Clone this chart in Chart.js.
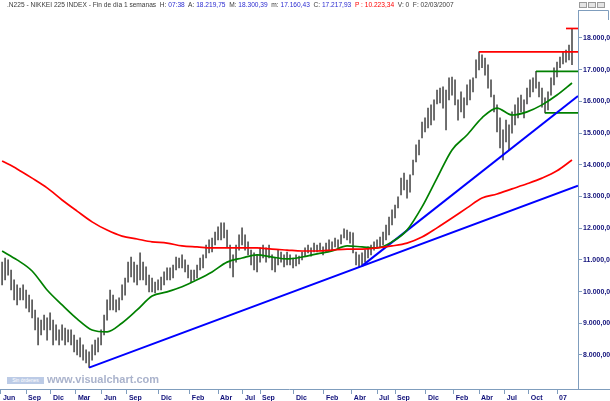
<!DOCTYPE html>
<html>
<head>
<meta charset="utf-8">
<script src="https://cdn.jsdelivr.net/npm/chart.js@4.4.1/dist/chart.umd.min.js"></script>
<style>
  html, body { margin: 0; padding: 0; background: #fff; overflow: hidden; }
  #wrap { position: relative; width: 610px; height: 401px; }
  #head { position: absolute; left: 7px; top: 1px; font: 6.6px "Liberation Sans", Arial, sans-serif; color: #3a3a3a; white-space: nowrap; }
  #head .v { color: #2b2bd0; }
  #head .p { color: #ff0000; }
  #wm { position: absolute; left: 47px; top: 373px; font: bold 11px "Liberation Sans", Arial, sans-serif; color: #aab3cc; }
  #so { position: absolute; left: 7px; top: 377px; width: 37px; height: 7px; background: #bccbe6; color: #fff; font: 5px "Liberation Sans", Arial, sans-serif; line-height: 7px; text-align: center; }
  .btn { position: absolute; top: 2px; width: 8px; height: 6px; border: 1px solid #9a9a9a; background: #e4e4e4; box-sizing: border-box; }
</style>
</head>
<body>
<div id="wrap">
  <canvas id="c" width="610" height="401"></canvas>
  <div id="head">.N225 - NIKKEI 225 INDEX - Fin de día 1 semanas&nbsp; H: <span class="v">07:38</span>&nbsp; A: <span class="v">18.219,75</span>&nbsp; M: <span class="v">18.300,39</span>&nbsp; m: <span class="v">17.160,43</span>&nbsp; C: <span class="v">17.217,93</span>&nbsp; <span class="p">P : 10.223,34</span>&nbsp; V: 0&nbsp; F: 02/03/2007</div>
  <div id="so">Sin órdenes</div>
  <div id="wm">www.visualchart.com</div>
  <div class="btn" style="left:579px"></div>
  <div class="btn" style="left:588px"></div>
  <div class="btn" style="left:597px"></div>
</div>
<script>
// weekly bars, oldest first
const highs = [
  10930, 11060, 11000, 10680, 10370, 10210, 10110, 10210, 10050, 9890,
  9740, 9420, 9170, 9100, 9260, 9170, 9330, 9100, 8950, 8790,
  8950, 8850, 8790, 8790, 8630, 8470, 8540, 8320, 8160, 8100,
  8320, 8470, 8540, 8790, 9260, 9740, 10050, 9890, 9740, 9800,
  10210, 10430, 10930, 11090, 10930, 10840, 11220, 10930, 10780, 10520,
  10430, 10300, 10370, 10460, 10620, 10750, 10750, 10840, 11090, 11060,
  11160, 11000, 10840, 10680, 10680, 10840, 11060, 11160, 11470, 11630,
  11690, 11880, 12040, 12170, 12170, 11940, 11470, 11160, 11470, 11790,
  12010, 11790, 11570, 11310, 11220, 11160, 11380, 11470, 11380, 11470,
  11160, 11060, 11310, 11250, 11160, 11250, 11160, 11060, 11160, 11120,
  11250, 11380, 11470, 11380, 11530, 11470, 11530, 11410, 11530, 11630,
  11570, 11690, 11630, 11790, 11980, 11940, 11880, 11850, 11250, 11160,
  11220, 11310, 11410, 11470, 11570, 11630, 11720, 11880, 12100, 12350,
  12580, 12730, 12990, 13580, 13740, 13520, 13680, 14150, 14630, 14780,
  15350, 15480, 15790, 15890, 16050, 16360, 16420, 16460, 16360, 16740,
  16770, 16680, 16050, 16300, 16110, 16520, 16680, 16740, 17310, 17560,
  17470, 17370, 17150, 16680, 16200, 15890, 15480, 15100, 15410, 15260,
  15670, 15890, 16110, 16200, 16050, 16420, 16680, 16740, 16950, 16610,
  16420, 16110, 16300, 16740, 17060, 17240, 17400, 17560, 17620, 17780,
  18300
];
const lows = [
  10210, 10370, 10520, 10050, 9740, 9580, 9740, 9740, 9480, 9360,
  9170, 8790, 8320, 8630, 8790, 8470, 8790, 8320, 8470, 8320,
  8470, 8320, 8410, 8320, 8100, 8000, 7940, 7840, 7750, 7610,
  7840, 8000, 8100, 8320, 8630, 9100, 9420, 9420, 9360, 9420,
  9740, 9890, 10300, 10460, 10300, 10210, 10370, 10370, 10210, 9990,
  9990, 9960, 10050, 10050, 10210, 10370, 10370, 10430, 10680, 10750,
  10750, 10620, 10430, 10300, 10370, 10430, 10680, 10750, 11060, 11220,
  11250, 11470, 11630, 11630, 11690, 11410, 10750, 10460, 10930, 11310,
  11470, 11310, 11160, 10840, 10680, 10620, 10930, 11060, 10930, 11060,
  10680, 10620, 10840, 10930, 10780, 10840, 10840, 10750, 10810, 10870,
  11000, 11120, 11220, 11120, 11250, 11250, 11310, 11160, 11250, 11310,
  11310, 11410, 11380, 11500, 11690, 11630, 11530, 11220, 10840, 10780,
  10810, 10930, 11060, 11160, 11310, 11380, 11410, 11470, 11630, 11790,
  12100, 12320, 12640, 13050, 13210, 12950, 13140, 13680, 14090, 14310,
  14850, 15040, 15160, 15260, 15410, 15920, 15950, 15790, 15100, 16050,
  16200, 15890, 15410, 15670, 15480, 15890, 16050, 16300, 16740, 16990,
  17060, 16830, 16420, 16140, 15670, 15040, 14530, 14150, 14720, 14470,
  15000, 15260, 15480, 15670, 15480, 15920, 16140, 16300, 16420, 16140,
  15820, 15640, 15730, 16200, 16520, 16770, 17060, 17180, 17240, 17310,
  17160
];

// moving averages, one value every 5 bars
const maStep = 5;
const greenMA = [
  11280, 11000, 10650, 10050, 9580, 9140, 8790, 8730, 9010, 9420,
  9860, 9990, 10150, 10370, 10620, 10930, 11060, 11160, 11090, 11030,
  11090, 11190, 11280, 11440, 11410, 11380, 11570, 11940, 12670, 13580,
  14470, 14940, 15480, 15790, 15570, 15670, 15890, 16200, 16580
];
const redMA = [
  14120, 13870, 13580, 13270, 12890, 12540, 12200, 11940, 11750, 11660,
  11570, 11530, 11440, 11410, 11380, 11380, 11380, 11380, 11340, 11310,
  11280, 11280, 11310, 11340, 11340, 11380, 11440, 11530, 11720, 12010,
  12320, 12640, 12950, 13080, 13240, 13400, 13580, 13810, 14150
];

// trend lines [barFrom, priceFrom, barTo, priceTo]
const trendLong = [29, 7600, 192, 13340];
const trendShort = [120, 10810, 192, 16170];
// horizontal levels [barFrom, price]
const redLevels = [[159, 17560], [188, 18300]];
const greenLevels = [[178, 16950], [181, 15640]];

const tickLabels = ['Jun','Sep','Dic','Mar','Jun','Sep','Dic','Feb','Abr','Jul','Sep','Dic',
                    'Feb','Abr','Jul','Sep','Dic','Feb','Abr','Jul','Oct','07'];
const tickPos = [-0.4, 8, 16.3, 24.6, 33.3, 41.6, 52.3, 62.6, 72, 80.3, 86, 97.3,
                 107.3, 116.6, 125, 131, 141.3, 150.6, 159, 167.6, 175.6, 185];
const yTicks = [8000, 9000, 10000, 11000, 12000, 13000, 14000, 15000, 16000, 17000, 18000];

const axisColor = '#7f9dbd';
const labelColor = '#10107a';

function fmt(v) {
  return Math.floor(v / 1000) + '.' + String(v % 1000).padStart(3, '0') + ',00';
}

function seg(a, color, w) {
  return { type: 'line', data: [{ x: a[0], y: a[1] }, { x: a[2], y: a[3] }],
           borderColor: color, borderWidth: w || 2, pointRadius: 0 };
}

const datasets = [
  { type: 'bar', data: highs.map((h, i) => ({ x: i, y: [lows[i], h] })),
    backgroundColor: '#5c5c5c', barThickness: 1.1, order: 10 },
  { type: 'line', data: redMA.map((v, k) => ({ x: k * maStep, y: v })),
    borderColor: '#ff0000', borderWidth: 1.7, pointRadius: 0, cubicInterpolationMode: 'monotone' },
  { type: 'line', data: greenMA.map((v, k) => ({ x: k * maStep, y: v })),
    borderColor: '#008000', borderWidth: 1.7, pointRadius: 0, cubicInterpolationMode: 'monotone' },
  seg(trendLong, '#0000ff', 2),
  seg(trendShort, '#0000ff', 2),
];
redLevels.forEach(l => datasets.push(seg([l[0], l[1], 192, l[1]], '#ff0000', 1.7)));
greenLevels.forEach(l => datasets.push(seg([l[0], l[1], 192, l[1]], '#008000', 1.7)));

const frame = {
  id: 'frame',
  afterDraw(chart) {
    const { ctx, chartArea: a } = chart;
    ctx.save();
    ctx.strokeStyle = axisColor;
    ctx.lineWidth = 1;
    ctx.beginPath();
    ctx.moveTo(a.right, a.bottom + 0.5);
    ctx.lineTo(chart.width, a.bottom + 0.5);
    ctx.moveTo(a.right, a.top + 0.5);
    ctx.lineTo(chart.width - 1.5, a.top + 0.5);
    ctx.lineTo(chart.width - 1.5, a.top + 10);
    ctx.stroke();
    ctx.restore();
  }
};

new Chart(document.getElementById('c'), {
  type: 'bar',
  data: { datasets },
  plugins: [frame],
  options: {
    responsive: false,
    animation: false,
    events: [],
    layout: { padding: { top: 10, left: 0, right: 0, bottom: 0 } },
    plugins: { legend: { display: false }, tooltip: { enabled: false } },
    scales: {
      x: {
        type: 'linear', min: -0.7, max: 192, offset: false,
        afterBuildTicks: s => { s.ticks = tickPos.map(v => ({ value: v })); },
        afterFit: s => { s.height = 12; },
        grid: { drawOnChartArea: false, offset: false, tickLength: 5, color: axisColor },
        border: { color: axisColor },
        ticks: {
          autoSkip: false, maxRotation: 0, align: 'start', padding: 0, labelOffset: 2,
          color: labelColor, font: { family: 'Liberation Sans', size: 7, weight: 'bold' },
          callback: (v, i) => tickLabels[i]
        }
      },
      y: {
        type: 'linear', position: 'right', min: 6927, max: 18883,
        afterBuildTicks: s => { s.ticks = yTicks.map(v => ({ value: v })); },
        afterFit: s => { s.width = 32; },
        grid: { drawOnChartArea: false, tickLength: 4, color: axisColor },
        border: { color: axisColor },
        ticks: {
          padding: 1, color: labelColor,
          font: { family: 'Liberation Sans', size: 7, weight: 'bold' },
          callback: v => fmt(v)
        }
      }
    }
  }
});
</script>
</body>
</html>
